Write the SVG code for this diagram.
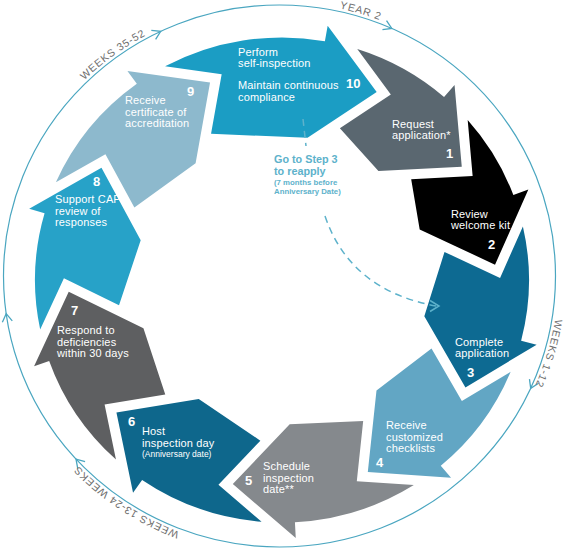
<svg xmlns="http://www.w3.org/2000/svg" width="568" height="549" viewBox="0 0 568 549">
<style>
.t{font-family:"Liberation Sans",Arial,sans-serif;font-size:11px;fill:#ffffff;letter-spacing:0.15px}
.n{font-family:"Liberation Sans",Arial,sans-serif;font-size:13px;font-weight:bold;fill:#ffffff}
.s{font-family:"Liberation Sans",Arial,sans-serif;font-size:8.5px;fill:#ffffff}
.lbl{font-family:"Liberation Sans",Arial,sans-serif;font-size:10.5px;fill:#6e6e6e;letter-spacing:0.8px}
.c1{font-family:"Liberation Sans",Arial,sans-serif;font-size:10.8px;font-weight:bold;fill:#5db2cb}
.c2{font-family:"Liberation Sans",Arial,sans-serif;font-size:7.8px;font-weight:bold;fill:#5db2cb}
.ring{fill:none;stroke:#4aa6c0;stroke-width:1.2}
.chev{fill:none;stroke:#4aa6c0;stroke-width:1.3;stroke-linejoin:miter}
.dash{fill:none;stroke:#5db2cb;stroke-width:1.5;stroke-dasharray:7 5}
</style>
<defs>
<path id="lp" d="M279.5,2 A279,274 0 1 1 279.5,550 A279,274 0 1 1 279.5,2"/>
</defs>
<rect width="568" height="549" fill="#ffffff"/>

<g id="timeline">
<ellipse class="ring" cx="279.5" cy="276" rx="276" ry="271"/>
<path class="chev" d="M-8,-5 L0,0 L-8,5" transform="translate(160.7 31.4) rotate(-25.5)"/>
<path class="chev" d="M-8,-5 L0,0 L-8,5" transform="translate(391.8 28.4) rotate(24)"/>
<path class="chev" d="M-8,-5 L0,0 L-8,5" transform="translate(530.7 388.4) rotate(114.5)"/>
<path class="chev" d="M-8,-5 L0,0 L-8,5" transform="translate(76 459.1) rotate(227.5)"/>
<path class="chev" d="M-8,-5 L0,0 L-8,5" transform="translate(6.2 313.7) rotate(262)"/>
<text class="lbl" text-anchor="middle"><textPath href="#lp" startOffset="4.7%">YEAR 2</textPath></text>
<text class="lbl" text-anchor="middle"><textPath href="#lp" startOffset="29.5%">WEEKS 1-12</textPath></text>
<text class="lbl" text-anchor="middle"><textPath href="#lp" startOffset="59.4%">WEEKS 13-24 WEEKS</textPath></text>
<text class="lbl" text-anchor="middle"><textPath href="#lp" startOffset="89.8%">WEEKS 35-52</textPath></text>
</g>

<g id="step10">
<path fill="#1b9dc4" transform="translate(282 280) scale(1 0.982) rotate(10)" d="M-152.95,-193.95 L-95.81,-195.91 L-95.75,-134.38 L0,-147 L60,-205 L0,-263 L0,-247 A247,247 0 0 0 -152.95,-193.95 Z"/>
<text class="t" x="238" y="55.5">Perform</text>
<text class="t" x="238" y="67">self-inspection</text>
<text class="t" x="238" y="89.3">Maintain continuous</text>
<text class="t" x="238" y="100.5">compliance</text>
<text class="n" x="346" y="88">10</text>
</g>

<g id="step1">
<path fill="#5a6770" transform="translate(282 280) scale(1 0.982) rotate(41)" d="M-97.54,-226.93 L-41.84,-214.03 L-57.71,-154.59 L0,-147 L60,-205 L0,-263 L0,-247 A247,247 0 0 0 -97.54,-226.93 Z"/>
<text class="t" x="392" y="127.7">Request</text>
<text class="t" x="392" y="139.3">application*</text>
<text class="n" x="446" y="158">1</text>
</g>

<g id="step2">
<path fill="#000000" transform="translate(282 280) scale(1 0.982) rotate(69.5)" d="M-87.56,-230.98 L-32.46,-215.66 L-50.91,-156.95 L0,-147 L60,-205 L0,-263 L0,-247 A247,247 0 0 0 -87.56,-230.98 Z"/>
<text class="t" x="451" y="217.5">Review</text>
<text class="t" x="451" y="228.5">welcome kit</text>
<text class="n" x="488" y="249">2</text>
</g>

<g id="step3">
<path fill="#0d6a92" transform="translate(282 280) scale(1 0.982) rotate(104.5)" d="M-113.13,-219.57 L-56.66,-210.59 L-68.35,-150.18 L0,-147 L60,-205 L0,-263 L0,-247 A247,247 0 0 0 -113.13,-219.57 Z"/>
<text class="t" x="455" y="346">Complete</text>
<text class="t" x="455" y="357">application</text>
<text class="n" x="467" y="377">3</text>
</g>

<g id="step4">
<path fill="#62a6c4" transform="translate(282 280) scale(1 0.982) rotate(140)" d="M-115.05,-218.58 L-58.5,-210.1 L-69.65,-149.58 L0,-147 L60,-205 L0,-263 L0,-247 A247,247 0 0 0 -115.05,-218.58 Z"/>
<text class="t" x="386" y="429.3">Receive</text>
<text class="t" x="386" y="440.8">customized</text>
<text class="t" x="386" y="452.3">checklists</text>
<text class="n" x="376" y="467">4</text>
</g>

<g id="step5">
<path fill="#85898d" transform="translate(282 280) scale(1 0.982) rotate(177)" d="M-120.73,-215.49 L-63.98,-208.48 L-73.55,-147.71 L0,-147 L60,-205 L0,-263 L0,-247 A247,247 0 0 0 -120.73,-215.49 Z"/>
<text class="t" x="263" y="470">Schedule</text>
<text class="t" x="263" y="481.7">inspection</text>
<text class="t" x="263" y="492.5">date**</text>
<text class="n" x="245" y="485">5</text>
</g>

<g id="step6">
<path fill="#0e678c" transform="translate(282 280) scale(1 0.982) rotate(214.5)" d="M-122.6,-214.43 L-65.8,-207.93 L-74.83,-147.06 L0,-147 L60,-205 L0,-263 L0,-247 A247,247 0 0 0 -122.6,-214.43 Z"/>
<text class="n" x="128" y="426">6</text>
<text class="t" x="142" y="435.3">Host</text>
<text class="t" x="142" y="446.5">inspection day</text>
<text class="s" x="142" y="457.3">(Anniversary date)</text>
</g>

<g id="step7">
<path fill="#5e5f61" transform="translate(282 280) scale(1 0.982) rotate(250.5)" d="M-116.95,-217.56 L-60.33,-209.57 L-70.96,-148.97 L0,-147 L60,-205 L0,-263 L0,-247 A247,247 0 0 0 -116.95,-217.56 Z"/>
<text class="n" x="71" y="315">7</text>
<text class="t" x="57" y="334">Respond to</text>
<text class="t" x="57" y="345.5">deficiencies</text>
<text class="t" x="57" y="357">within 30 days</text>
</g>

<g id="step8">
<path fill="#27a2c8" transform="translate(282 280) scale(1 0.982) rotate(286)" d="M-115.05,-218.58 L-58.5,-210.1 L-69.65,-149.58 L0,-147 L60,-205 L0,-263 L0,-247 A247,247 0 0 0 -115.05,-218.58 Z"/>
<text class="n" x="93" y="185.5">8</text>
<text class="t" x="55" y="203">Support CAP</text>
<text class="t" x="55" y="214.5">review of</text>
<text class="t" x="55" y="226">responses</text>
</g>

<g id="step9">
<path fill="#8db9cd" transform="translate(282 280) scale(1 0.982) rotate(324)" d="M-124.47,-213.35 L-67.61,-207.34 L-76.11,-146.4 L0,-147 L60,-205 L0,-263 L0,-247 A247,247 0 0 0 -124.47,-213.35 Z"/>
<text class="n" x="187" y="96">9</text>
<text class="t" x="125" y="104.3">Receive</text>
<text class="t" x="125" y="115.5">certificate of</text>
<text class="t" x="125" y="126.8">accreditation</text>
</g>

<g id="reapply">
<text class="c1" x="274" y="163">Go to Step 3</text>
<text class="c1" x="274" y="175">to reapply</text>
<text class="c2" x="274" y="184.5">(7 months before</text>
<text class="c2" x="274" y="193.5">Anniversary Date)</text>
</g>

<g id="connectors">
<path class="dash" d="M303,119 L306,146"/>
<path class="dash" d="M325,216 Q350,290 436,306"/>
<path class="chev" d="M430,300.5 L439,306 L430,311.5" style="stroke:#5db2cb;stroke-width:1.5"/>
</g>
</svg>
